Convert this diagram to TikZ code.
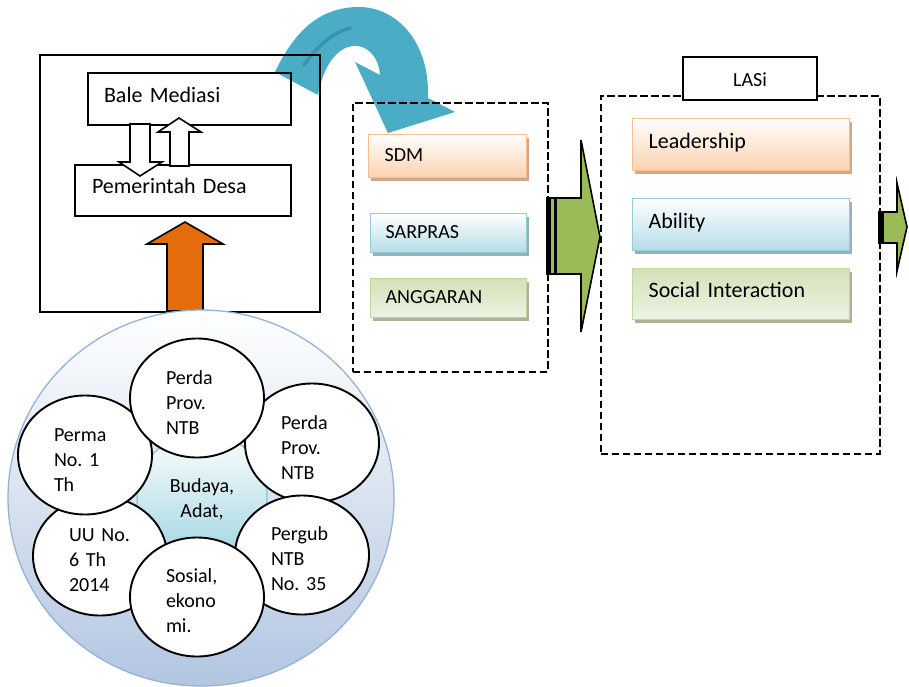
\documentclass[tikz,border=0pt]{standalone}
\usepackage{fontspec}
\setmainfont{Carlito}
\usetikzlibrary{shapes.geometric,shadows}
\frenchspacing

\definecolor{orbord}{HTML}{F9BE8F}
\definecolor{orfill}{HTML}{FBD2AF}
\definecolor{orshadow}{HTML}{D4A685}
\definecolor{blbord}{HTML}{92CDDC}
\definecolor{blfill}{HTML}{B4DCE7}
\definecolor{blshadow}{HTML}{8FB2BC}
\definecolor{grbord}{HTML}{C3D69B}
\definecolor{grfill}{HTML}{D3E1B8}
\definecolor{grlight}{HTML}{EDF3E2}
\definecolor{grshadow}{HTML}{A7B592}
\definecolor{curveblue}{HTML}{4BACC6}
\definecolor{curvedark}{HTML}{2F7E95}
\definecolor{upfill}{HTML}{E46C0A}
\definecolor{flowgreen}{HTML}{9BBB59}
\definecolor{discfill}{HTML}{B2C6E1}
\definecolor{discbord}{HTML}{95B3D7}
\definecolor{corefill}{HTML}{9FD4E1}
\definecolor{coreedge}{HTML}{8ECBDB}

\tikzset{
  solidbox/.style={rectangle, draw=black, line width=2pt, anchor=north west,
    inner ysep=0pt, align=left, font=\fontsize{22}{26}\selectfont,
    text height=12.6pt, text depth=5.4pt},
  dashbox/.style={rectangle, draw=black, line width=1.9pt, dash pattern=on 7.5pt off 3.5pt,
    anchor=north west, inner sep=0pt},
  factor/.style={rectangle, anchor=north west, line width=1.3pt, inner ysep=0pt, align=left},
  midfactor/.style={factor, font=\fontsize{20}{24}\selectfont, text height=14pt, text depth=4pt},
  lasfactor/.style={factor, font=\fontsize{22}{26}\selectfont, text height=12.6pt, text depth=5.4pt},
  orangefactor/.style={draw=orbord, top color=white, bottom color=orfill,
    general shadow={fill=orshadow, shadow xshift=2.5pt, shadow yshift=-3pt}},
  bluefactor/.style={draw=blbord, top color=white, bottom color=blfill,
    general shadow={fill=blshadow, shadow xshift=2.5pt, shadow yshift=-3pt}},
  greenfactor/.style={draw=grbord, top color=grfill, bottom color=grlight,
    general shadow={fill=grshadow, shadow xshift=2.5pt, shadow yshift=-3pt}},
  law/.style={ellipse, draw=black, line width=1.9pt, fill=white, minimum width=134pt,
    minimum height=119pt, inner sep=0pt, align=left, text width=62pt,
    font=\fontsize{20}{25}\selectfont, lawlift=22pt},
  lawlift/.style={execute at begin node={\rule{0pt}{#1}}},
  blockarrow/.style={draw=black, line width=1.6pt, line join=miter},
}

\begin{document}
\begin{tikzpicture}[x=1pt, y=-1pt]
\useasboundingbox (0,0) rectangle (909,687);

% curved blue arrow behind the village box
\fill[curveblue] (275,72) .. controls (295,30) and (320,8) .. (357,7)
  .. controls (395,6) and (430,40) .. (428,98) -- (455,112) -- (388,133)
  -- (355,62) -- (380,75) .. controls (377,36) and (330,30) .. (318,95) -- cycle;
\draw[curvedark, line width=3.5pt, line cap=round, opacity=0.55]
  (304,65) .. controls (318,45) and (334,32) .. (350,28);

% village box with mediation and government
\node[rectangle, draw=black, line width=2pt, anchor=north west, inner sep=0pt,
  minimum width=280pt, minimum height=257pt] (village) at (39,54) {};
\node[solidbox, minimum width=203pt, minimum height=52pt, text width=171pt, inner xsep=16pt]
  (bale) at (87,72) {Bale Mediasi};
\node[solidbox, minimum width=216pt, minimum height=51pt, text width=182pt, inner xsep=17pt,
  text height=12pt, text depth=6pt]
  (desa) at (74,164) {Pemerintah Desa};

% exchange arrows between the two boxes
\filldraw[blockarrow, fill=white] (130,124) -- (150,124) -- (150,162) -- (162,162)
  -- (140,176) -- (119,162) -- (130,162) -- cycle;
\filldraw[blockarrow, fill=white] (170,166) -- (189,166) -- (189,132) -- (201,132)
  -- (179,118) -- (158,132) -- (170,132) -- cycle;

% orange arrow from the foundations up to government
\filldraw[blockarrow, fill=upfill] (167,311) -- (203,311) -- (203,244) -- (223,244)
  -- (185,222) -- (147,244) -- (167,244) -- cycle;

% resources column
\node[dashbox, minimum width=195pt, minimum height=269pt] (resources) at (352,102) {};
\node[midfactor, orangefactor, minimum width=158pt, minimum height=43pt, text width=126pt,
  inner xsep=16pt] (sdm) at (368,134) {SDM};
\node[midfactor, bluefactor, minimum width=156pt, minimum height=39pt, text width=126pt,
  inner xsep=15pt] (sarpras) at (370,213) {SARPRAS};
\node[midfactor, greenfactor, minimum width=156pt, minimum height=39pt, text width=126pt,
  inner xsep=15pt] (anggaran) at (370,278) {ANGGARAN};

% green arrow to the LASi column
\filldraw[blockarrow, fill=flowgreen] (547,198) -- (581,198) -- (581,140) -- (600,237)
  -- (581,332) -- (581,274) -- (547,274) -- cycle;
\fill[black] (547,198) rectangle (551,274);
\fill[black] (554,198) rectangle (557,274);

% LASi column
\node[dashbox, minimum width=279pt, minimum height=358pt] (lasi) at (600,95) {};
\node[rectangle, draw=black, line width=2pt, fill=white, anchor=north west,
  minimum width=134pt, minimum height=43pt, inner sep=0pt, font=\fontsize{20}{24}\selectfont,
  text height=17pt, text depth=1pt] (lasilabel) at (682,56) {LASi};
\node[lasfactor, orangefactor, minimum width=217pt, minimum height=52pt, text width=185pt,
  inner xsep=16pt] (leader) at (632,118) {Leadership};
\node[lasfactor, bluefactor, minimum width=217pt, minimum height=52pt, text width=185pt,
  inner xsep=16pt] (ability) at (632,198) {Ability};
\node[lasfactor, greenfactor, minimum width=217pt, minimum height=51pt, text width=185pt,
  inner xsep=16pt] (social) at (632,268) {Social Interaction};

% small outgoing arrow
\filldraw[blockarrow, fill=flowgreen] (879,212) -- (897,212) -- (897,183) -- (907,227)
  -- (897,271) -- (897,243) -- (879,243) -- cycle;
\fill[black] (879,212) rectangle (884,243);

% foundations disc
\shade[top color=white, middle color=white!88!discfill, bottom color=discfill]
  (201,498) ellipse [x radius=193, y radius=188];
\draw[discbord, line width=1.3pt] (201,498) ellipse [x radius=193, y radius=188];
\shade[top color=white, bottom color=corefill] (202,497) circle [radius=65];
\draw[coreedge, line width=1.5pt] (202,497) circle [radius=65];
\node[align=center, font=\fontsize{20}{25}\selectfont] (budaya) at (202,499) {Budaya,\\Adat,};

\node[law, lawlift=16pt] (uu) at (100,556) {UU No.\\6 Th\\2014};
\node[law] (perma) at (85,455) {Perma\\No. 1\\Th};
\node[law] (perdaright) at (312,443) {Perda\\Prov.\\NTB};
\node[law] (perdatop) at (197,398) {Perda\\Prov.\\NTB};
\node[law] (pergub) at (302,555) {Pergub\\NTB\\No. 35};
\node[law] (sosial) at (197,597) {Sosial,\\ekono\\mi.};
\end{tikzpicture}
\end{document}
